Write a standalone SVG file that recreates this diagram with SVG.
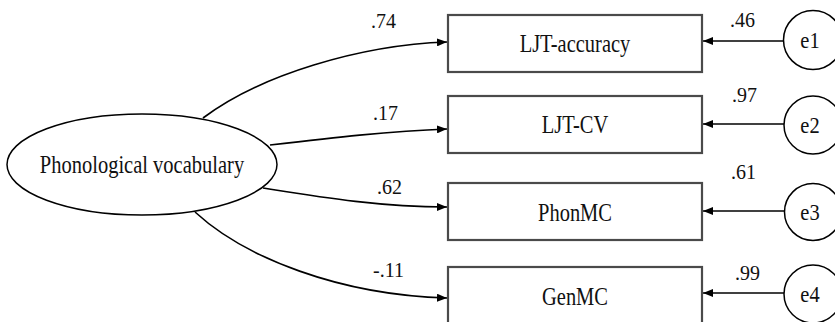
<svg xmlns="http://www.w3.org/2000/svg" width="835" height="322" viewBox="0 0 835 322">
  <defs>
    <marker id="arr" viewBox="0 0 10 8" refX="10" refY="4" markerWidth="10" markerHeight="8" markerUnits="userSpaceOnUse" orient="auto">
      <path d="M0,0 L10,4 L0,8 Z" fill="#000"/>
    </marker>
  </defs>
  <rect width="835" height="322" fill="#fff"/>

  <g id="connectors" fill="none" stroke="#000" stroke-width="1.6" marker-end="url(#arr)">
    <path d="M203,118 C260,75 360,45 447,42"/>
    <path d="M270,145 C330,138 390,131 447,129"/>
    <path d="M263,188 C320,197 380,207 447,207"/>
    <path d="M195,212 C245,258 340,295 447,298"/>
    <path d="M784,41 L703,41"/>
    <path d="M784,124 L703,124"/>
    <path d="M784,211 L703,211"/>
    <path d="M784,293 L703,293"/>
  </g>

  <g id="labels" fill="#111">
    <text font-family="Liberation Serif" font-size="24" transform="translate(371,28) scale(0.833,0.88)">.74</text>
    <text font-family="Liberation Serif" font-size="24" transform="translate(373,120) scale(0.833,0.88)">.17</text>
    <text font-family="Liberation Serif" font-size="24" transform="translate(377,194) scale(0.833,0.88)">.62</text>
    <text font-family="Liberation Serif" font-size="24" transform="translate(373,277) scale(0.833,0.88)">-.11</text>
    <text font-family="Liberation Serif" font-size="24" transform="translate(730,27) scale(0.833,0.88)">.46</text>
    <text font-family="Liberation Serif" font-size="24" transform="translate(732,102) scale(0.833,0.88)">.97</text>
    <text font-family="Liberation Serif" font-size="24" transform="translate(731,179) scale(0.833,0.88)">.61</text>
    <text font-family="Liberation Serif" font-size="24" transform="translate(735,280) scale(0.833,0.88)">.99</text>
  </g>

  <g id="nodes">
    <g id="phonological-vocabulary">
      <ellipse cx="142" cy="164.5" rx="135" ry="50.5" fill="#fff" stroke="#000" stroke-width="1.5"/>
      <text font-family="Liberation Serif" font-size="24" text-anchor="middle" fill="#111" transform="translate(142,173) scale(0.854,1.04)">Phonological vocabulary</text>
    </g>
    <g id="observed" fill="#fff" stroke="#4a4a4a" stroke-width="2.2">
      <rect id="ljt-accuracy" x="448" y="15" width="254" height="57"/>
      <rect id="ljt-cv" x="448" y="96" width="254" height="57"/>
      <rect id="phonmc" x="448" y="183" width="254" height="57"/>
      <rect id="genmc" x="448" y="267" width="254" height="57"/>
    </g>
    <g id="observed-labels" fill="#111">
      <text font-family="Liberation Serif" font-size="24" text-anchor="middle" transform="translate(575,52) scale(0.854,1.04)">LJT-accuracy</text>
      <text font-family="Liberation Serif" font-size="24" text-anchor="middle" transform="translate(575,133) scale(0.854,1.04)">LJT-CV</text>
      <text font-family="Liberation Serif" font-size="24" text-anchor="middle" transform="translate(575,221) scale(0.854,1.04)">PhonMC</text>
      <text font-family="Liberation Serif" font-size="24" text-anchor="middle" transform="translate(575,305) scale(0.854,1.04)">GenMC</text>
    </g>
    <g id="errors" fill="#fff" stroke="#000" stroke-width="1.5">
      <circle id="e1" cx="813" cy="40" r="29.5"/>
      <circle id="e2" cx="813" cy="125" r="29"/>
      <circle id="e3" cx="813" cy="212" r="28.5"/>
      <circle id="e4" cx="813" cy="294" r="29"/>
    </g>
    <g id="error-labels" fill="#111">
      <text font-family="Liberation Serif" font-size="24" text-anchor="middle" transform="translate(810,48) scale(0.854,0.94)">e1</text>
      <text font-family="Liberation Serif" font-size="24" text-anchor="middle" transform="translate(810,133) scale(0.854,0.94)">e2</text>
      <text font-family="Liberation Serif" font-size="24" text-anchor="middle" transform="translate(810,220) scale(0.854,0.94)">e3</text>
      <text font-family="Liberation Serif" font-size="24" text-anchor="middle" transform="translate(810,302) scale(0.854,0.94)">e4</text>
    </g>
  </g>
</svg>
